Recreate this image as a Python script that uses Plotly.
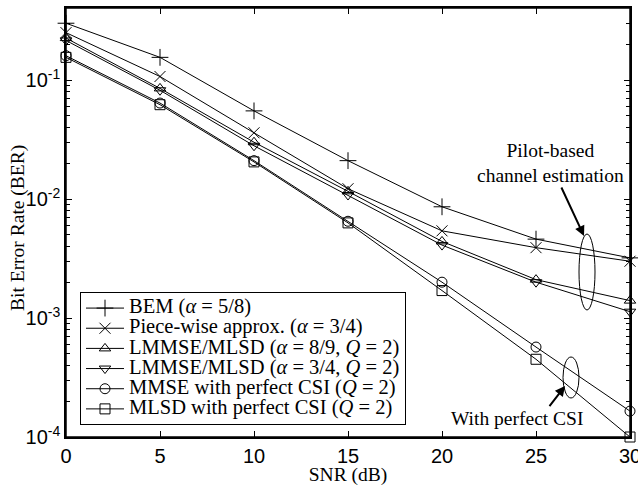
import plotly.graph_objects as go

snr_db = [0, 5, 10, 15, 20, 25, 30]

ber_bem = [0.30, 0.155, 0.055, 0.021, 0.0086, 0.0046, 0.0032]
ber_piecewise = [0.25, 0.107, 0.036, 0.0122, 0.0054, 0.0039, 0.0030]
ber_lmmse_89 = [0.225, 0.085, 0.030, 0.0116, 0.0044, 0.0021, 0.0014]
ber_lmmse_34 = [0.215, 0.082, 0.028, 0.0108, 0.0041, 0.0020, 0.00113]
ber_mmse_csi = [0.16, 0.064, 0.021, 0.0065, 0.0020, 0.00057, 0.000165]
ber_mlsd_csi = [0.155, 0.062, 0.0205, 0.0063, 0.0017, 0.00045, 0.0001]

series_names = [
    "BEM (<i>α</i> = 5/8)",
    "Piece-wise approx. (<i>α</i> = 3/4)",
    "LMMSE/MLSD (<i>α</i> = 8/9, <i>Q</i> = 2)",
    "LMMSE/MLSD (<i>α</i> = 3/4, <i>Q</i> = 2)",
    "MMSE with perfect CSI (<i>Q</i> = 2)",
    "MLSD with perfect CSI (<i>Q</i> = 2)",
]
series_values = [ber_bem, ber_piecewise, ber_lmmse_89, ber_lmmse_34, ber_mmse_csi, ber_mlsd_csi]
series_symbols = ["cross-thin-open", "x-thin-open", "triangle-up-open", "triangle-down-open",
                  "circle-open", "square-open"]
series_sizes = [12, 11, 10, 10, 10, 10]

y_major = [1e-4, 1e-3, 1e-2, 1e-1]
y_major_text = ["10<sup>-4</sup>", "10<sup>-3</sup>", "10<sup>-2</sup>", "10<sup>-1</sup>"]
y_minor = [m * 10 ** e for e in (-4, -3, -2, -1) for m in range(2, 10) if m * 10 ** e < 0.4]
x_ticks = [0, 5, 10, 15, 20, 25, 30]

W, H = 638, 486
L, R, T, B = 66, 8, 8, 49
PW, PH = W - L - R, H - T - B


def px(x):
    return (x - L) / PW


def py(y):
    return (H - B - y) / PH


serif = "Liberation Serif"
sans = "Liberation Sans"

fig = go.Figure()
for name, vals, sym, sz in zip(series_names, series_values, series_symbols, series_sizes):
    fig.add_trace(go.Scatter(
        x=snr_db, y=vals,
        name='<span style="font-size:20.5px">' + name + '</span>',
        mode="lines+markers",
        line=dict(color="black", width=1),
        marker=dict(symbol=sym, size=sz, color="black", line=dict(color="black", width=1)),
        cliponaxis=False,
    ))

common_axis = dict(
    ticks="inside", ticklen=6, tickcolor="black", tickwidth=1,
    showline=True, linecolor="black", linewidth=1.5, mirror="allticks",
    showgrid=False, zeroline=False, automargin=False, ticklabeloverflow="allow",
    tickfont=dict(family=sans, size=20, color="black"),
)

fig.update_layout(
    template="none",
    width=W, height=H,
    margin=dict(l=L, r=R, t=T, b=B, autoexpand=False),
    paper_bgcolor="white", plot_bgcolor="white",
    showlegend=True,
    legend=dict(
        x=px(80), y=py(292), xanchor="left", yanchor="top",
        bgcolor="white", bordercolor="black", borderwidth=1,
        font=dict(family=serif, size=13.2, color="black"),
        tracegroupgap=0, itemwidth=38,
    ),
    xaxis=dict(
        range=[0, 30], tickvals=x_ticks,
        title=dict(text="SNR (dB)", font=dict(family=serif, size=19.5, color="black"), standoff=3),
        **common_axis,
    ),
    yaxis=dict(
        type="log", range=[-4, -0.395], tickvals=y_major, ticktext=y_major_text,
        minor=dict(tickvals=y_minor, ticks="inside", ticklen=4, tickcolor="black", showgrid=False),
        **common_axis,
    ),
)

# Y-axis title
fig.add_annotation(xref="paper", yref="paper", x=px(18), y=py(228), xanchor="center", yanchor="middle",
                   text="Bit Error Rate (BER)", textangle=-90, showarrow=False,
                   font=dict(family=serif, size=19.5, color="black"))

# Plot frame
fig.add_shape(type="rect", xref="paper", yref="paper", x0=0, x1=1, y0=0, y1=1,
              line=dict(color="black", width=1.5), layer="above")

# Ellipses grouping curves
fig.add_shape(type="circle", xref="paper", yref="paper",
              x0=px(579), x1=px(595), y0=py(310), y1=py(234),
              line=dict(color="black", width=1))
fig.add_shape(type="circle", xref="paper", yref="paper",
              x0=px(563), x1=px(579), y0=py(398), y1=py(357),
              line=dict(color="black", width=1))

# Label with arrow (arrow tail starts at text box edge)
fig.add_annotation(xref="paper", yref="paper", x=px(584), y=py(236),
                   ax=550 - 584, ay=163 - 236, axref="pixel", ayref="pixel",
                   text="Pilot-based<br>channel estimation", showarrow=True,
                   arrowhead=2, arrowsize=1, arrowwidth=2, arrowcolor="black",
                   font=dict(family=serif, size=19.5, color="black"), align="center")
fig.add_annotation(xref="paper", yref="paper", x=px(517), y=py(418),
                   xanchor="center", yanchor="middle",
                   text="With perfect CSI", showarrow=False,
                   font=dict(family=serif, size=19.5, color="black"), align="center")
fig.add_annotation(xref="paper", yref="paper", x=px(565), y=py(386), ax=548 - 565, ay=408 - 386,
                   axref="pixel", ayref="pixel", text=" ", showarrow=True,
                   arrowhead=2, arrowsize=1, arrowwidth=2, arrowcolor="black",
                   font=dict(size=1))

fig.write_html(
    "out.html",
    config={"displayModeBar": False},
    post_script="document.body.style.margin='0px';document.body.style.overflow='hidden';",
)
